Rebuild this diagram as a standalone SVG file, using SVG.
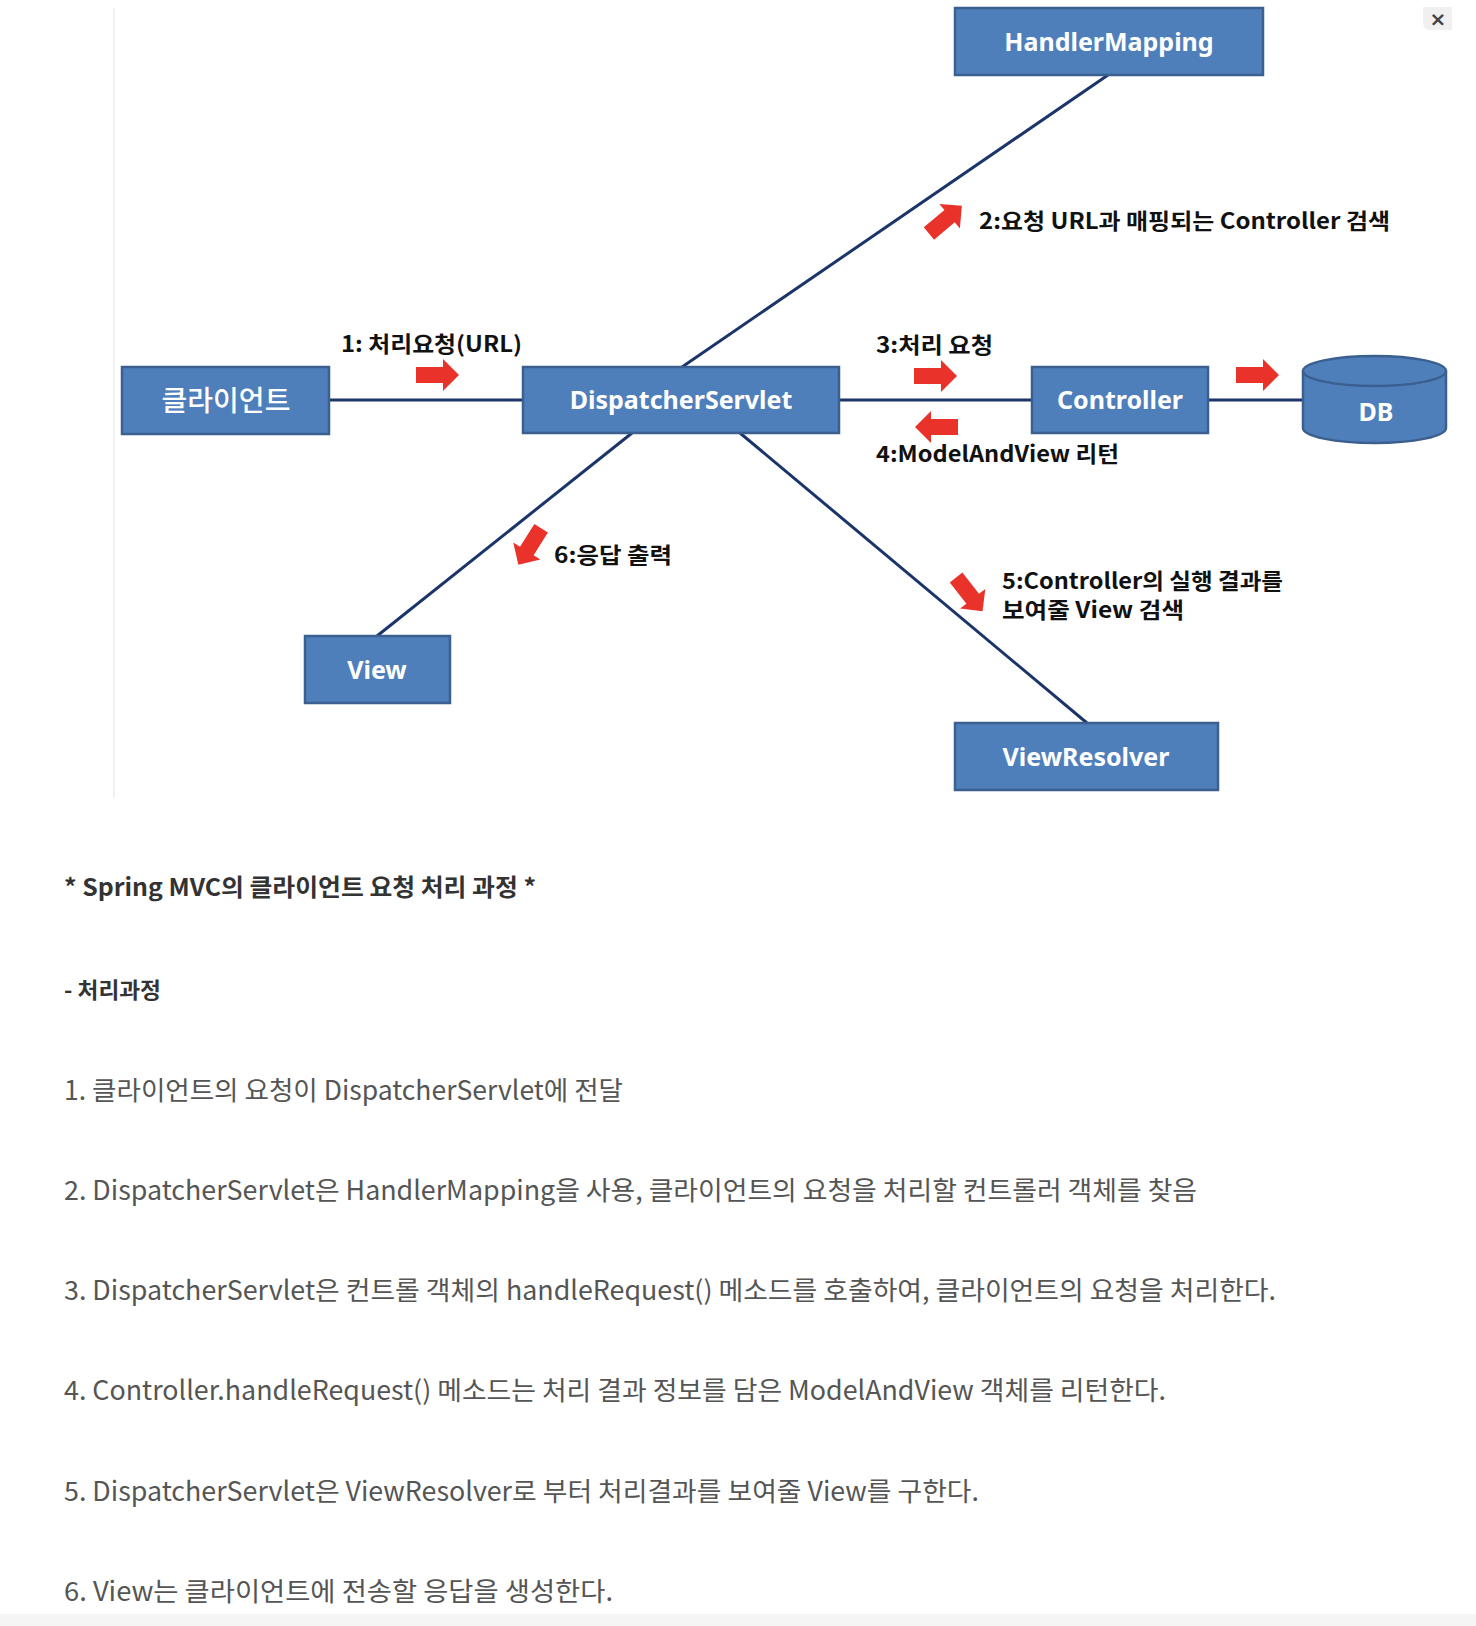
<svg xmlns="http://www.w3.org/2000/svg" xmlns:xlink="http://www.w3.org/1999/xlink" width="1476" height="1626" viewBox="0 0 1476 1626">
<style>
.box{fill:#4f7fbb;stroke:#3b5f8e;stroke-width:2.5}
.bt{fill:#fff;font-family:"Noto Sans","Noto Sans CJK KR",sans-serif;font-weight:700;font-size:25px;text-anchor:middle}
.kt{fill:#fff;font-family:"Noto Sans CJK KR",sans-serif;font-weight:500;font-size:28px;text-anchor:middle}
.ln{stroke:#1b3469;stroke-width:3;fill:none}
.lbl{fill:#111;font-family:"Noto Sans CJK KR",sans-serif;font-weight:700;font-size:22px}
.ar{fill:#e8322a}
.h1{fill:#333;font-family:"Noto Sans CJK KR",sans-serif;font-weight:700;font-size:24px}
.h2{fill:#333;font-family:"Noto Sans CJK KR",sans-serif;font-weight:700;font-size:22px}
.li{fill:#555;font-family:"Noto Sans CJK KR",sans-serif;font-weight:400;font-size:26.5px}
</style>
<defs>
<path id="arr" d="M0,-8 L27,-8 L27,-16 L43,0 L27,16 L27,8 L0,8 Z"/>
</defs>
<rect x="0" y="0" width="1476" height="1626" fill="#fff"/>
<line x1="114" y1="8" x2="114" y2="798" stroke="#ececec" stroke-width="1.5"/>
<g id="close">
<path d="M1423,7 L1452,7 L1452,30 L1430,30 Q1423,30 1423,23 Z" fill="#f0f0f0"/>
<text x="1438" y="26" font-family="DejaVu Sans,sans-serif" font-size="20" font-weight="700" fill="#444" text-anchor="middle">×</text>
</g>
<g id="connectors">
<line class="ln" x1="329" y1="400" x2="523" y2="400"/>
<line class="ln" x1="839" y1="400" x2="1032" y2="400"/>
<line class="ln" x1="1208" y1="400" x2="1303" y2="400"/>
<line class="ln" x1="682" y1="367" x2="1108" y2="75"/>
<line class="ln" x1="632" y1="433" x2="377" y2="636"/>
<line class="ln" x1="740" y1="433" x2="1087" y2="723"/>
</g>
<g id="arrows">
<use href="#arr" class="ar" transform="translate(416,375)"/>
<use href="#arr" class="ar" transform="translate(914,376)"/>
<use href="#arr" class="ar" transform="translate(958,427) rotate(180)"/>
<use href="#arr" class="ar" transform="translate(1236,375)"/>
<use href="#arr" class="ar" transform="translate(945,220) rotate(-40) translate(-21,0)"/>
<use href="#arr" class="ar" transform="translate(530,546) rotate(122) translate(-21,0)"/>
<use href="#arr" class="ar" transform="translate(969,594) rotate(52) translate(-21,0)"/>
</g>
<g id="labels">
<text class="lbl" x="341" y="352" textLength="181" lengthAdjust="spacingAndGlyphs">1: 처리요청(URL)</text>
<text class="lbl" x="979" y="229" textLength="411" lengthAdjust="spacingAndGlyphs">2:요청 URL과 매핑되는 Controller 검색</text>
<text class="lbl" x="876" y="353" textLength="117" lengthAdjust="spacingAndGlyphs">3:처리 요청</text>
<text class="lbl" x="876" y="462" textLength="243" lengthAdjust="spacingAndGlyphs">4:ModelAndView 리턴</text>
<text class="lbl" x="554" y="563" textLength="118" lengthAdjust="spacingAndGlyphs">6:응답 출력</text>
<text class="lbl" x="1002" y="589" font-size="19" textLength="281" lengthAdjust="spacingAndGlyphs">5:Controller의 실행 결과를</text>
<text class="lbl" x="1002" y="618" font-size="19" textLength="182" lengthAdjust="spacingAndGlyphs">보여줄 View 검색</text>
</g>
<g id="node-handlermapping">
<rect class="box" x="955" y="8" width="308" height="67"/>
<text class="bt" x="1109" y="51">HandlerMapping</text>
</g>
<g id="node-client">
<rect class="box" x="122" y="367" width="207" height="67"/>
<text class="kt" x="226" y="411">클라이언트</text>
</g>
<g id="node-dispatcher">
<rect class="box" x="523" y="367" width="316" height="66"/>
<text class="bt" x="681" y="409">DispatcherServlet</text>
</g>
<g id="node-controller">
<rect class="box" x="1032" y="367" width="176" height="66"/>
<text class="bt" x="1120" y="409">Controller</text>
</g>
<g id="node-db">
<path class="box" d="M1303,371 L1303,428 A71.5,15 0 0 0 1446,428 L1446,371"/>
<ellipse class="box" cx="1374.5" cy="371" rx="71.5" ry="15"/>
<text class="bt" x="1376" y="421" font-size="32">DB</text>
</g>
<g id="node-view">
<rect class="box" x="305" y="636" width="145" height="67"/>
<text class="bt" x="377" y="679">View</text>
</g>
<g id="node-viewresolver">
<rect class="box" x="955" y="723" width="263" height="67"/>
<text class="bt" x="1086" y="766">ViewResolver</text>
</g>
<g id="text">
<text class="h1" x="64" y="896" textLength="472" lengthAdjust="spacingAndGlyphs">* Spring MVC의 클라이언트 요청 처리 과정 *</text>
<text class="h2" x="64" y="998" textLength="97" lengthAdjust="spacingAndGlyphs">- 처리과정</text>
<text class="li" x="64" y="1100" textLength="559" lengthAdjust="spacingAndGlyphs">1. 클라이언트의 요청이 DispatcherServlet에 전달</text>
<text class="li" x="64" y="1200" textLength="1133" lengthAdjust="spacingAndGlyphs">2. DispatcherServlet은 HandlerMapping을 사용, 클라이언트의 요청을 처리할 컨트롤러 객체를 찾음</text>
<text class="li" x="64" y="1300" textLength="1212" lengthAdjust="spacingAndGlyphs">3. DispatcherServlet은 컨트롤 객체의 handleRequest() 메소드를 호출하여, 클라이언트의 요청을 처리한다.</text>
<text class="li" x="64" y="1400" textLength="1102" lengthAdjust="spacingAndGlyphs">4. Controller.handleRequest() 메소드는 처리 결과 정보를 담은 ModelAndView 객체를 리턴한다.</text>
<text class="li" x="64" y="1501" textLength="915" lengthAdjust="spacingAndGlyphs">5. DispatcherServlet은 ViewResolver로 부터 처리결과를 보여줄 View를 구한다.</text>
<text class="li" x="64" y="1601" textLength="549" lengthAdjust="spacingAndGlyphs">6. View는 클라이언트에 전송할 응답을 생성한다.</text>
</g>
<rect x="0" y="1614" width="1476" height="12" fill="#f5f5f5"/>
</svg>
